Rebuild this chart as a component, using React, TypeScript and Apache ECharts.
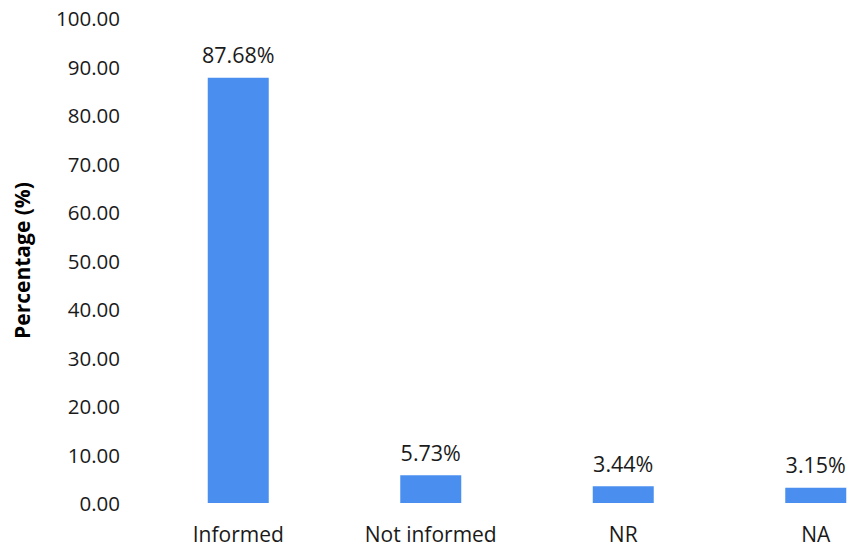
import React, { useEffect, useRef } from "react";
import * as echarts from "echarts";

const categories = ["Informed", "Not informed", "NR", "NA"];
const values = [87.68, 5.73, 3.44, 3.15];
const yMin = 0;
const yMax = 100;
const yInterval = 10;
const yTitle = "Percentage (%)";

export default function App() {
  const ref = useRef<HTMLDivElement>(null);
  useEffect(() => {
    if (!ref.current) return;
    const chart = echarts.init(ref.current, null, { renderer: "svg" });
    const font = "'Open Sans', sans-serif";
    chart.setOption({
      animation: false,
      backgroundColor: "#ffffff",
      grid: { left: 142, right: 0, top: 18, bottom: 45, containLabel: false },
      xAxis: {
        type: "category",
        data: categories,
        axisLine: { show: false },
        axisTick: { show: false },
        axisLabel: { color: "#1a1a1a", fontSize: 21, fontFamily: font, margin: 20 },
      },
      yAxis: {
        type: "value",
        min: yMin,
        max: yMax,
        interval: yInterval,
        name: yTitle,
        nameLocation: "middle",
        nameGap: 110,
        nameTextStyle: { color: "#000", fontSize: 21, fontWeight: "bold", fontFamily: font },
        splitLine: { show: false },
        axisLine: { show: false },
        axisTick: { show: false },
        axisLabel: {
          color: "#1a1a1a",
          fontSize: 20.5,
          fontFamily: font,
          margin: 22,
          formatter: (v: number) => v.toFixed(2),
        },
      },
      series: [
        {
          type: "bar",
          data: values,
          barWidth: 61,
          itemStyle: { color: "#4a8ff0" },
          label: {
            show: true,
            position: "top",
            distance: 12,
            color: "#1a1a1a",
            fontSize: 21.5,
            fontFamily: font,
            formatter: (p: any) => p.value.toFixed(2) + "%",
          },
        },
      ],
    });
    return () => chart.dispose();
  }, []);
  return (
    <div style={{ position: "absolute", left: 0, top: 0, width: 849, height: 548, overflow: "hidden" }}>
      <div ref={ref} style={{ width: 912, height: 548 }} />
    </div>
  );
}
